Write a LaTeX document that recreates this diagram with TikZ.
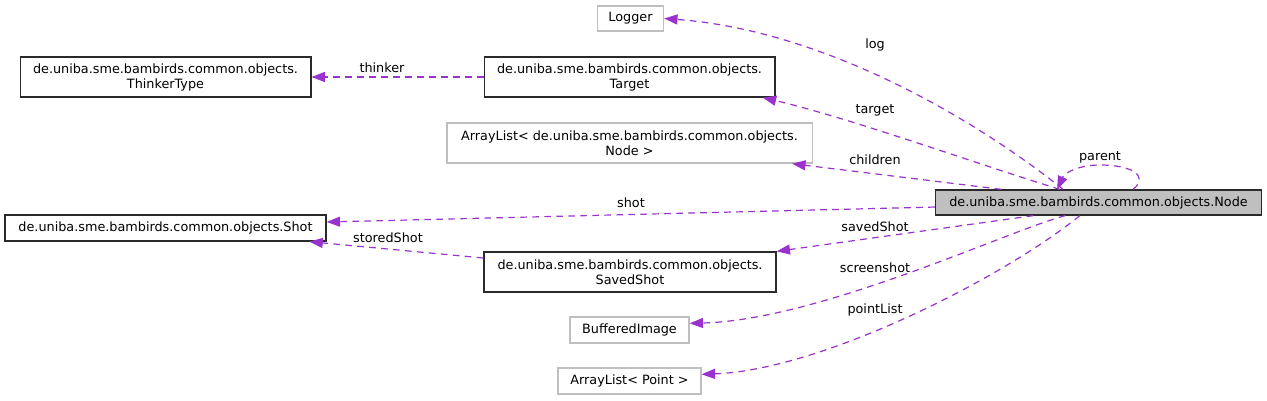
\documentclass[tikz,border=0pt]{standalone}
\usepackage{fontspec}
\setmainfont{DejaVu Sans}
\usepackage{xcolor}
\usepackage{tikz}
\usetikzlibrary{arrows.meta,positioning}
\definecolor{edgepurple}{HTML}{9A32CD}
\definecolor{grey75}{HTML}{BFBFBF}
\definecolor{boxline}{HTML}{2A2A2A}

\begin{document}
\begin{tikzpicture}[
  x=0.75pt,y=-0.75pt,
  font=\fontsize{9.6}{11.25}\selectfont,
  cls/.style={draw=boxline,fill=white,line width=1pt,align=center,inner sep=1pt},
  ext/.style={draw=grey75,fill=white,line width=1pt,align=center,inner sep=1pt},
  main/.style={draw=boxline,fill=grey75,line width=1pt,align=center,inner sep=1pt},
  dep/.style={-{Triangle[length=10pt,width=7.5pt]},draw=edgepurple,line width=0.9pt,
              dash pattern=on 5pt off 4pt},
  lbl/.style={inner sep=0pt,text=black}
]
\useasboundingbox (0,0) rectangle (1267,400);
\node[ext,minimum width=49.5pt,minimum height=18.75pt] (logger) at (630.5,18.5) {Logger};
\node[cls,minimum width=218pt,minimum height=30pt] (thinker) at (165.5,77) {de.uniba.sme.bambirds.common.objects.\\ThinkerType};
\node[cls,minimum width=218pt,minimum height=30pt] (target) at (629.5,77) {de.uniba.sme.bambirds.common.objects.\\Target};
\node[ext,minimum width=274pt,minimum height=30pt] (nodelist) at (629.5,143) {ArrayList< de.uniba.sme.bambirds.common.objects.\\Node >};
\node[main,minimum width=244.5pt,minimum height=18.75pt] (node) at (1098.5,202.5) {de.uniba.sme.bambirds.common.objects.Node};
\node[cls,minimum width=240.75pt,minimum height=19.5pt] (shot) at (165.5,228) {de.uniba.sme.bambirds.common.objects.Shot};
\node[cls,minimum width=219pt,minimum height=30pt] (savedshot) at (630,272) {de.uniba.sme.bambirds.common.objects.\\SavedShot};
\node[ext,minimum width=89.25pt,minimum height=19.5pt] (bufimg) at (629.5,330) {BufferedImage};
\node[ext,minimum width=107.25pt,minimum height=19.5pt] (pointlist) at (629.5,381) {ArrayList< Point >};

% members of Node
\draw[dep] ([xshift=-26.6pt]node.north) .. controls (970,115) and (820,30) .. (logger.east);
\draw[dep] ([xshift=-29pt]node.north) .. controls (980,165) and (850,118) .. ([xshift=100pt]target.south);
\draw[dep] ([xshift=-73pt]node.north) -- ([xshift=122pt]nodelist.south);
\draw[dep] ([yshift=-3.4pt]node.west) -- ([yshift=4.5pt]shot.east);
\draw[dep] ([xshift=-49pt]node.south) -- (savedshot.north east);
\draw[dep] ([xshift=-25pt]node.south) .. controls (1010,230) and (820,320) .. ([yshift=5pt]bufimg.east);
\draw[dep] ([xshift=-14pt]node.south) .. controls (1000,280) and (820,370) .. ([yshift=5pt]pointlist.east);
\draw[dep] ([xshift=26pt]node.north) .. controls (1150,175) and (1130,165) .. (1100,165)
  .. controls (1080,165) and (1065,172) .. ([xshift=-31pt]node.north);
% other members
\draw[dep] (target.west) -- (thinker.east);
\draw[dep] ([yshift=10.5pt]savedshot.west) -- ([xshift=108pt]shot.south);

\node[lbl] (l-log) at (875,45) {log};
\node[lbl] (l-target) at (875,110) {target};
\node[lbl] (l-children) at (875,160) {children};
\node[lbl] (l-shot) at (631,203) {shot};
\node[lbl] (l-saved) at (875,227) {savedShot};
\node[lbl] (l-screen) at (875,268) {screenshot};
\node[lbl] (l-points) at (875,310) {pointList};
\node[lbl] (l-parent) at (1100,157) {parent};
\node[lbl] (l-thinker) at (382,68) {thinker};
\node[lbl] (l-stored) at (388,238) {storedShot};
\end{tikzpicture}
\end{document}
